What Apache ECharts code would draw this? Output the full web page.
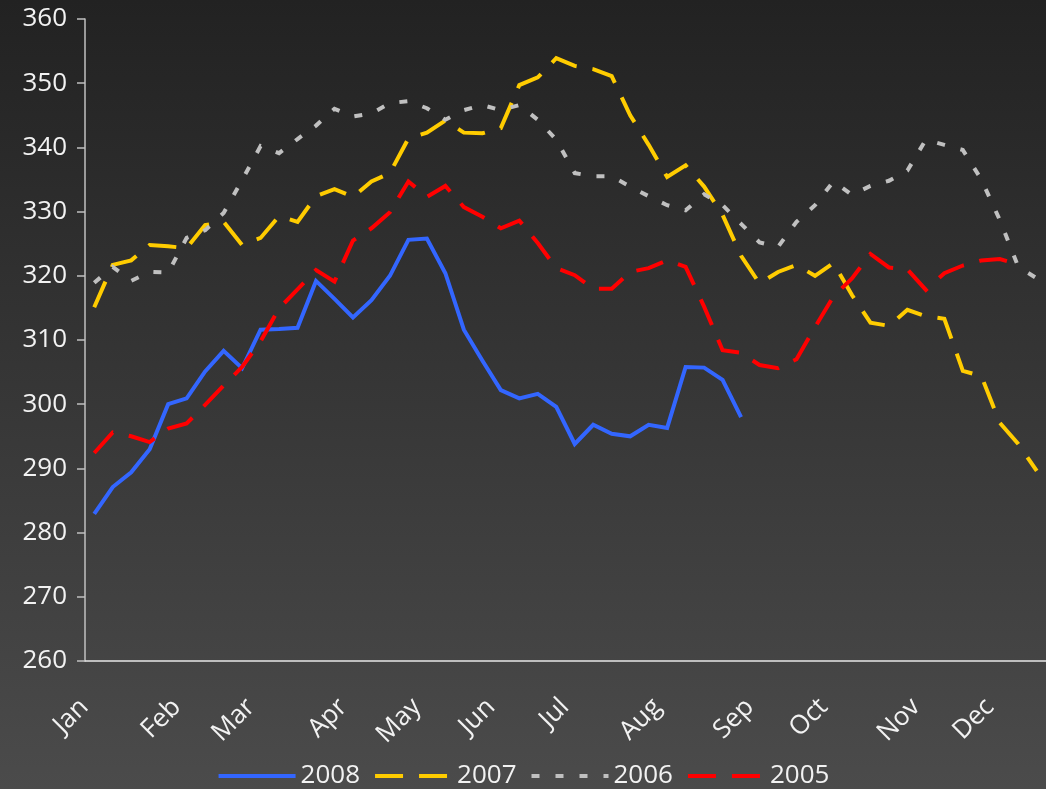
<!DOCTYPE html>
<html lang="en">
  <head>
    <meta charset="UTF-8" />
    <title>Weekly 2005-2008</title>
    <script src="https://cdn.jsdelivr.net/npm/echarts@6/dist/echarts.min.js"></script>
    <style>
      html, body { margin: 0; padding: 0; }
      #chart {
        width: 1046px;
        height: 789px;
        background: linear-gradient(180deg, #222222 0%, #4b4b4b 100%);
      }
    </style>
  </head>
  <body>
    <div id="chart"></div>
    <script>
      // 52 weeks, month name on the first week of each month
      var weeks = [
        "Jan", "", "", "", "", "Feb", "", "", "", "Mar", "", "", "", "",
        "Apr", "", "", "", "May", "", "", "", "Jun", "", "", "", "Jul",
        "", "", "", "", "Aug", "", "", "", "", "Sep", "", "", "", "Oct",
        "", "", "", "", "Nov", "", "", "", "Dec", "", ""
      ];

      var y2008 = [
        282.9, 287.1, 289.4, 293.0, 300.0, 300.9, 305.1, 308.3, 305.6, 311.6,
        311.7, 311.9, 319.2, 316.4, 313.5, 316.2, 320.0, 325.6, 325.8, 320.4,
        311.6, 306.8, 302.2, 300.9, 301.6, 299.6, 293.8, 296.8, 295.4, 295.0,
        296.8, 296.3, 305.8, 305.7, 303.8, 298.0
      ];
      var y2007 = [
        315.1, 321.7, 322.4, 324.8, 324.6, 324.3, 327.9, 328.4, 324.8, 325.9,
        329.3, 328.4, 332.4, 333.5, 332.3, 334.7, 336.0, 341.4, 342.3, 344.2,
        342.3, 342.2, 343.0, 349.7, 350.9, 353.9, 352.7, 352.2, 351.1, 345.0,
        340.4, 335.4, 337.2, 333.9, 329.5, 323.1, 318.8, 320.6, 321.7, 320.0,
        322.0, 317.0, 312.7, 312.2, 314.7, 313.7, 313.3, 305.2, 304.4, 297.1,
        293.8, 289.6
      ];
      var y2006 = [
        318.9, 321.4, 319.2, 320.6, 320.5, 325.9, 327.1, 329.8, 334.9, 340.2,
        339.1, 341.3, 343.4, 346.0, 344.8, 345.3, 346.9, 347.2, 346.1, 344.3,
        345.8, 346.6, 345.8, 346.6, 344.3, 341.2, 336.0, 335.5, 335.5, 333.9,
        332.4, 331.0, 330.2, 332.7, 331.0, 328.1, 325.2, 324.5, 328.4, 331.0,
        334.7, 332.6, 334.0, 334.8, 336.4, 341.2, 340.4, 339.6, 335.0, 328.7,
        321.4, 319.6
      ];
      var y2005 = [
        292.4, 295.6, 295.0, 294.1, 296.2, 297.0, 299.9, 302.9, 305.8, 309.8,
        314.9, 317.9, 320.9, 319.1, 325.5, 327.4, 329.9, 334.7, 332.3, 334.0,
        330.7, 329.2, 327.4, 328.6, 325.1, 321.2, 320.1, 318.0, 318.0, 320.6,
        321.2, 322.4, 321.4, 315.2, 308.4, 308.0, 306.1, 305.6, 307.0, 312.0,
        316.8, 319.6, 323.4, 321.3, 321.0, 317.8, 320.4, 321.6, 322.4, 322.6,
        321.8
      ];

      var chart = echarts.init(document.getElementById("chart"), null, { renderer: "canvas" });
      var font = "'Open Sans', 'Noto Sans', sans-serif";

      var styles = {
        "2008": { color: "#3366ff", type: "solid" },
        "2007": { color: "#ffcc00", type: [28, 16] },
        "2006": { color: "#c0c0c0", type: [8, 16] },
        "2005": { color: "#ff0000", type: [28, 16] }
      };

      function line(name, data) {
        var s = styles[name];
        return {
          name: name,
          type: "line",
          data: data,
          symbol: "none",
          smooth: false,
          animation: false,
          lineStyle: { color: s.color, width: 4, type: s.type, cap: "butt", join: "miter" },
          itemStyle: { color: s.color }
        };
      }

      // legend entries: line only, no marker
      var legendItems = ["2008", "2007", "2006", "2005"].map(function (n) {
        return {
          name: n,
          lineStyle: { color: styles[n].color, width: 4, type: styles[n].type, cap: "butt" },
          itemStyle: { color: "transparent", borderColor: "transparent", borderWidth: 0, opacity: 0 }
        };
      });

      chart.setOption({
        backgroundColor: "transparent",
        textStyle: { fontFamily: font },
        grid: { left: 85, right: 0, top: 19, bottom: 128 },
        legend: {
          bottom: 0,
          left: "center",
          padding: 0,
          itemWidth: 77,
          itemHeight: 14,
          itemGap: 13,
          textStyle: { color: "#f2f2f2", fontSize: 26, fontFamily: font },
          data: legendItems
        },
        xAxis: {
          type: "category",
          data: weeks,
          boundaryGap: true,
          axisLine: { lineStyle: { color: "#e6e6e6", width: 1.5 } },
          axisTick: { interval: 0, length: 6, lineStyle: { color: "#b0b0b0", width: 1.5 } },
          axisLabel: {
            interval: 0,
            rotate: 45,
            margin: 32,
            padding: [0, 14, 0, 0],
            color: "#f2f2f2",
            fontSize: 26,
            fontFamily: font
          },
          splitLine: { show: false }
        },
        yAxis: {
          type: "value",
          min: 260,
          max: 360,
          interval: 10,
          axisLine: { show: true, lineStyle: { color: "#c0c0c0", width: 1.5 } },
          axisTick: { show: true, length: 8, lineStyle: { color: "#c0c0c0", width: 1.5 } },
          axisLabel: { color: "#f2f2f2", fontSize: 26, margin: 18, fontFamily: font },
          splitLine: { show: false }
        },
        series: [
          line("2008", y2008),
          line("2007", y2007),
          line("2006", y2006),
          line("2005", y2005)
        ]
      });
    </script>
  </body>
</html>
